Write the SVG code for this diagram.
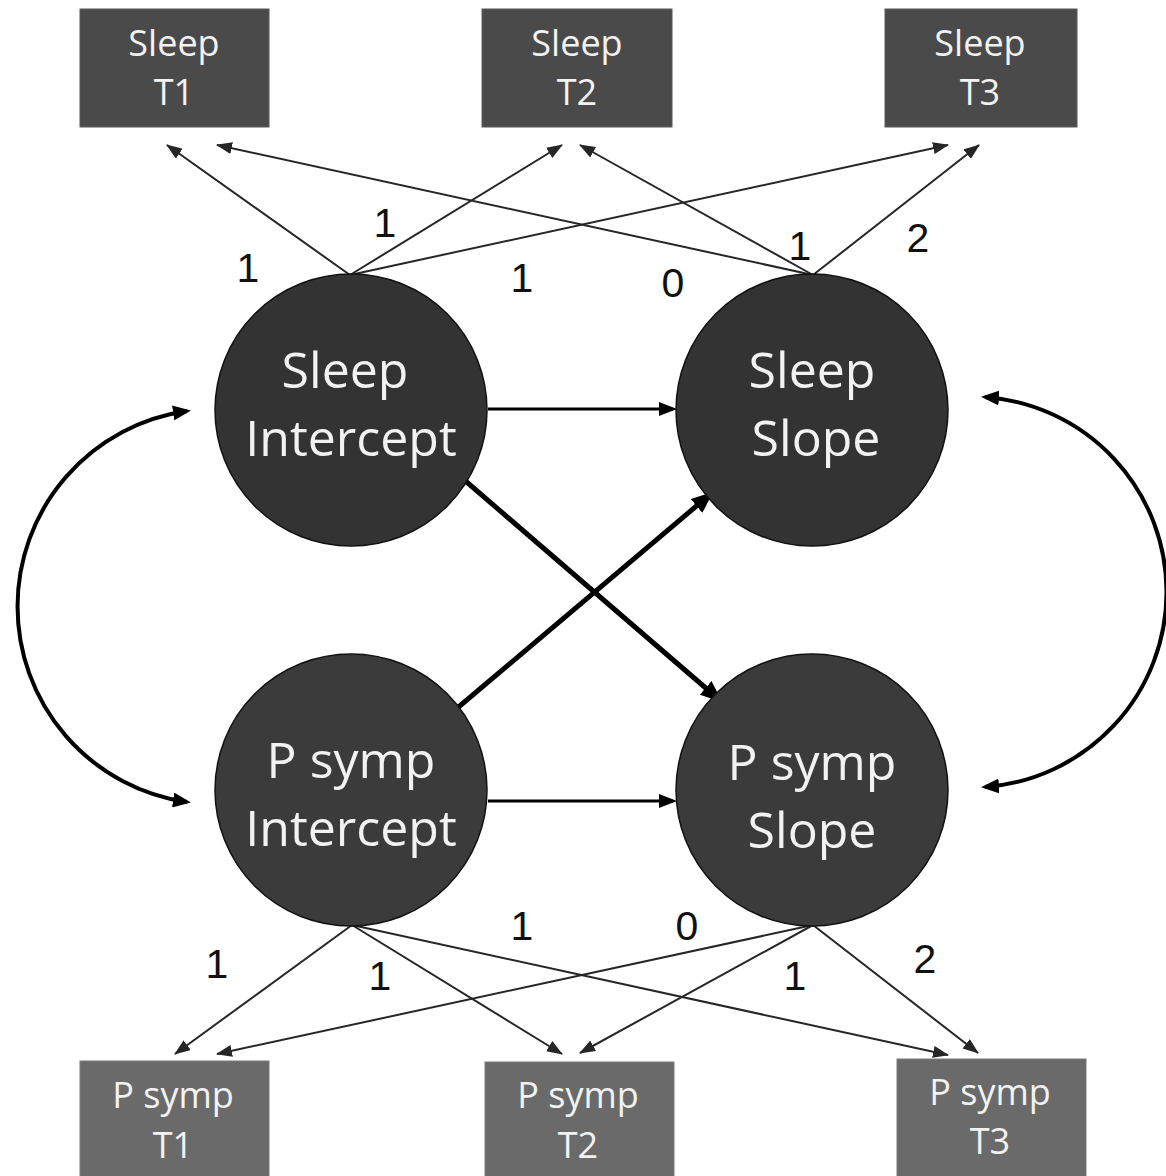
<svg xmlns="http://www.w3.org/2000/svg" width="1166" height="1176" viewBox="0 0 1166 1176">
<style>
.bg{fill:#ffffff}
.boxTop{fill:#4a4a4a;stroke:#5a5a5a;stroke-width:1}
.boxBot{fill:#6a6a6a;stroke:#7a7a7a;stroke-width:1}
.circS{fill:#333333;stroke:#111111;stroke-width:1.5}
.circP{fill:#3b3b3b;stroke:#111111;stroke-width:1.5}
.bt{font-family:"Open Sans","Noto Sans","Liberation Sans",sans-serif;font-size:36px;fill:#f2f2f2;text-anchor:middle}
.ct{font-family:"Open Sans","Noto Sans","Liberation Sans",sans-serif;font-size:50px;fill:#f2f2f2;text-anchor:middle}
.lbl{font-family:"Liberation Sans",Arial,sans-serif;font-size:41px;fill:#111111;text-anchor:middle}
.thin{stroke:#262626;stroke-width:2;fill:none;marker-end:url(#aThin)}
.med{stroke:#000000;stroke-width:3;fill:none;marker-end:url(#aMed)}
.thick{stroke:#000000;stroke-width:5;fill:none;marker-end:url(#aThick)}
.curve{stroke:#000000;stroke-width:4;fill:none;marker-start:url(#aCurve);marker-end:url(#aCurve)}
</style>
<defs>
<marker id="aThin" markerUnits="userSpaceOnUse" viewBox="0 0 16 12" markerWidth="16" markerHeight="12" refX="15" refY="6" orient="auto"><path d="M0,0 L16,6 L0,12 z" fill="#262626"/></marker>
<marker id="aMed" markerUnits="userSpaceOnUse" viewBox="0 0 18 14" markerWidth="18" markerHeight="14" refX="14" refY="7" orient="auto"><path d="M0,0 L18,7 L0,14 z" fill="#000000"/></marker>
<marker id="aThick" markerUnits="userSpaceOnUse" viewBox="0 0 22 18" markerWidth="22" markerHeight="18" refX="17" refY="9" orient="auto"><path d="M0,0 L22,9 L0,18 z" fill="#000000"/></marker>
<marker id="aCurve" markerUnits="userSpaceOnUse" viewBox="0 0 18 15" markerWidth="18" markerHeight="15" refX="14" refY="7.5" orient="auto-start-reverse"><path d="M0,0 L18,7.5 L0,15 z" fill="#000000"/></marker>
</defs>
<rect class="bg" x="0" y="0" width="1166" height="1176"/>

<g id="connectors">
<line class="thin" x1="350" y1="275" x2="167" y2="145"/>
<line class="thin" x1="350" y1="275" x2="562" y2="145"/>
<line class="thin" x1="350" y1="275" x2="948" y2="145"/>
<line class="thin" x1="813" y1="275" x2="217" y2="145"/>
<line class="thin" x1="813" y1="275" x2="580" y2="145"/>
<line class="thin" x1="813" y1="275" x2="979" y2="145"/>
<line class="thin" x1="352" y1="925" x2="175" y2="1054"/>
<line class="thin" x1="352" y1="925" x2="562" y2="1054"/>
<line class="thin" x1="352" y1="925" x2="948" y2="1055"/>
<line class="thin" x1="813" y1="925" x2="217" y2="1054"/>
<line class="thin" x1="813" y1="925" x2="580" y2="1053"/>
<line class="thin" x1="813" y1="925" x2="978" y2="1053"/>
<line class="med" x1="488" y1="409" x2="673" y2="409"/>
<line class="med" x1="488" y1="801" x2="673" y2="801"/>
<line class="thick" x1="462" y1="478" x2="718.5" y2="699"/>
<line class="thick" x1="455" y1="710" x2="709.5" y2="495"/>
<path class="curve" d="M 187 411 A 197.5 197.5 0 0 0 187 802"/>
<path class="curve" d="M 985 397 A 195.5 195.5 0 0 1 985 787"/>
</g>

<g id="sleepT1"><rect class="boxTop" x="80" y="9" width="189" height="118"/><text class="bt" x="174" y="56">Sleep</text><text class="bt" x="174" y="105">T1</text></g>
<g id="sleepT2"><rect class="boxTop" x="482" y="9" width="190" height="118"/><text class="bt" x="577" y="56">Sleep</text><text class="bt" x="577" y="105">T2</text></g>
<g id="sleepT3"><rect class="boxTop" x="885" y="9" width="192" height="118"/><text class="bt" x="980" y="56">Sleep</text><text class="bt" x="980" y="105">T3</text></g>

<g id="sleepIntercept"><circle class="circS" cx="351" cy="410" r="136"/><text class="ct" x="345" y="388">Sleep</text><text class="ct" x="351" y="456">Intercept</text></g>
<g id="sleepSlope"><circle class="circS" cx="812" cy="410" r="136"/><text class="ct" x="812" y="388">Sleep</text><text class="ct" x="816" y="456">Slope</text></g>
<g id="psympIntercept"><circle class="circP" cx="351" cy="790" r="136"/><text class="ct" x="351" y="778">P symp</text><text class="ct" x="351" y="846">Intercept</text></g>
<g id="psympSlope"><circle class="circP" cx="812" cy="790" r="136"/><text class="ct" x="812" y="780">P symp</text><text class="ct" x="812" y="848">Slope</text></g>

<g id="psympT1"><rect class="boxBot" x="80" y="1061" width="189" height="120"/><text class="bt" x="173" y="1108">P symp</text><text class="bt" x="173" y="1158">T1</text></g>
<g id="psympT2"><rect class="boxBot" x="485" y="1062" width="189" height="120"/><text class="bt" x="578" y="1108">P symp</text><text class="bt" x="578" y="1158">T2</text></g>
<g id="psympT3"><rect class="boxBot" x="897" y="1059" width="189" height="120"/><text class="bt" x="990" y="1105">P symp</text><text class="bt" x="990" y="1154">T3</text></g>

<g id="labels">
<text class="lbl" x="248" y="282">1</text>
<text class="lbl" x="385" y="237">1</text>
<text class="lbl" x="522" y="292">1</text>
<text class="lbl" x="673" y="297">0</text>
<text class="lbl" x="800" y="260">1</text>
<text class="lbl" x="918" y="252">2</text>
<text class="lbl" x="217" y="978">1</text>
<text class="lbl" x="380" y="990">1</text>
<text class="lbl" x="522" y="940">1</text>
<text class="lbl" x="687" y="940">0</text>
<text class="lbl" x="795" y="990">1</text>
<text class="lbl" x="925" y="973">2</text>
</g>
</svg>
